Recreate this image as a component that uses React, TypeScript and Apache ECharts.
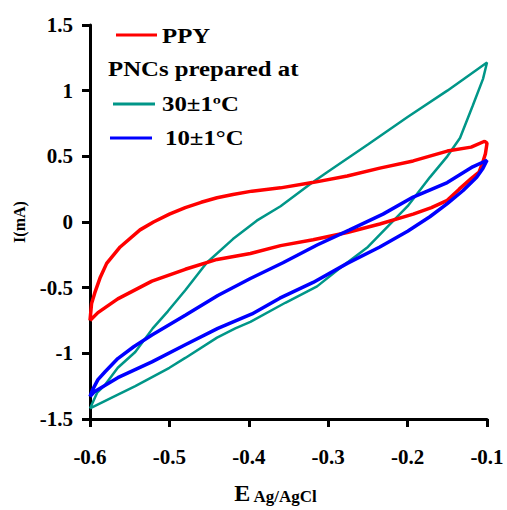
import React, { useEffect, useRef } from "react";
import * as echarts from "echarts";

// PPY loop (E in V, I in mA)
const ppyE = [-0.6, -0.598, -0.594, -0.587, -0.579, -0.562, -0.537, -0.52, -0.5, -0.48, -0.46, -0.44, -0.42, -0.396, -0.36, -0.32, -0.276, -0.235, -0.193, -0.15, -0.12, -0.103, -0.1, -0.102, -0.105, -0.11, -0.12, -0.135, -0.15, -0.17, -0.193, -0.235, -0.276, -0.319, -0.36, -0.398, -0.44, -0.48, -0.522, -0.565, -0.59, -0.6];
const ppyI = [-0.75, -0.62, -0.54, -0.42, -0.315, -0.19, -0.06, 0.0, 0.06, 0.11, 0.15, 0.185, 0.21, 0.235, 0.26, 0.3, 0.35, 0.41, 0.465, 0.54, 0.57, 0.615, 0.6, 0.52, 0.46, 0.38, 0.33, 0.25, 0.165, 0.11, 0.06, -0.015, -0.08, -0.135, -0.18, -0.24, -0.285, -0.36, -0.45, -0.585, -0.69, -0.75];

// PNCs prepared at 30±1°C
const pnc30E = [-0.6, -0.57, -0.543, -0.5, -0.48, -0.44, -0.417, -0.398, -0.354, -0.314, -0.285, -0.25, -0.2, -0.172, -0.15, -0.134, -0.118, -0.105, -0.1, -0.15, -0.2, -0.25, -0.3, -0.32, -0.36, -0.39, -0.42, -0.453, -0.48, -0.502, -0.521, -0.543, -0.565, -0.581, -0.591, -0.597, -0.6];
const pnc30I = [-1.42, -1.33, -1.25, -1.11, -1.035, -0.88, -0.81, -0.76, -0.615, -0.49, -0.35, -0.19, 0.12, 0.34, 0.5, 0.64, 0.885, 1.09, 1.215, 1.0, 0.8, 0.59, 0.385, 0.3, 0.12, 0.01, -0.13, -0.31, -0.52, -0.68, -0.81, -0.99, -1.11, -1.24, -1.3, -1.38, -1.42];

// PNCs prepared at 10±1°C
const pnc10E = [-0.6, -0.597, -0.59, -0.581, -0.565, -0.545, -0.522, -0.48, -0.439, -0.398, -0.357, -0.314, -0.273, -0.231, -0.193, -0.15, -0.118, -0.1, -0.105, -0.113, -0.13, -0.15, -0.172, -0.2, -0.235, -0.276, -0.319, -0.361, -0.396, -0.439, -0.48, -0.522, -0.565, -0.594, -0.6];
const pnc10I = [-1.33, -1.28, -1.2, -1.14, -1.04, -0.95, -0.86, -0.71, -0.56, -0.43, -0.31, -0.175, -0.06, 0.06, 0.19, 0.3, 0.42, 0.47, 0.41, 0.34, 0.24, 0.14, 0.04, -0.07, -0.19, -0.315, -0.46, -0.58, -0.7, -0.81, -0.935, -1.065, -1.185, -1.29, -1.33];

const seriesNames = ["PPY", "30±1ºC", "10±1°C"];
const seriesColors = ["#ff0000", "#009688", "#0000ff"];

const zip = (xs: number[], ys: number[]) => xs.map((x, i) => [x, ys[i]]);

export default function App() {
  const ref = useRef<HTMLDivElement>(null);
  useEffect(() => {
    document.body.style.margin = "0";
    if (!ref.current) return;
    const chart = echarts.init(ref.current, undefined, { renderer: "svg" });
    const font = "'Liberation Serif', 'Times New Roman', serif";
    const legendText = (text: string, x: number, y: number) => ({
      type: "text",
      x,
      y,
      scaleX: 1.24,
      style: { text, font: `bold 20px ${font}`, fill: "#000", textVerticalAlign: "middle" },
    });
    chart.setOption({
      animation: false,
      grid: { left: 90, right: 20, top: 25, bottom: 85 },
      xAxis: {
        type: "value",
        min: -0.6,
        max: -0.1,
        interval: 0.1,
        axisLine: { onZero: false, lineStyle: { color: "#000", width: 3 } },
        axisTick: { show: true, length: 8, lineStyle: { color: "#000", width: 3 } },
        splitLine: { show: false },
        axisLabel: {
          margin: 27,
          color: "#000",
          fontFamily: font,
          fontWeight: "bold",
          fontSize: 21,
          formatter: (v: number) => v.toFixed(1),
        },
        name: "{a|E} {b|Ag/AgCl}",
        nameLocation: "middle",
        nameGap: 62,
        nameTextStyle: {
          padding: [0, 26, 0, 0],
          rich: {
            a: { fontFamily: font, fontWeight: "bold", fontSize: 24, color: "#000" },
            b: { fontFamily: font, fontWeight: "bold", fontSize: 17, color: "#000", padding: [6, 0, 0, 0] },
          },
        },
      },
      yAxis: {
        type: "value",
        min: -1.5,
        max: 1.5,
        interval: 0.5,
        axisLine: { onZero: false, lineStyle: { color: "#000", width: 3 } },
        axisTick: { show: true, length: 8, lineStyle: { color: "#000", width: 3 } },
        splitLine: { show: false },
        axisLabel: {
          margin: 17,
          color: "#000",
          fontFamily: font,
          fontWeight: "bold",
          fontSize: 21,
          formatter: (v: number) => String(Number(v.toFixed(1))),
        },
        name: "I(mA)",
        nameLocation: "middle",
        nameGap: 63,
        nameTextStyle: { fontFamily: font, fontWeight: "bold", fontSize: 16, color: "#000" },
      },
      series: [
        { name: seriesNames[1], type: "line", data: zip(pnc30E, pnc30I), showSymbol: false, symbol: "none", lineStyle: { color: seriesColors[1], width: 2.5 }, z: 2 },
        { name: seriesNames[0], type: "line", data: zip(ppyE, ppyI), showSymbol: false, symbol: "none", lineStyle: { color: seriesColors[0], width: 3.5 }, z: 3 },
        { name: seriesNames[2], type: "line", data: zip(pnc10E, pnc10I), showSymbol: false, symbol: "none", lineStyle: { color: seriesColors[2], width: 3.5 }, z: 4 },
      ],
      graphic: [
        { type: "line", shape: { x1: 116, y1: 35, x2: 157, y2: 35 }, style: { stroke: seriesColors[0], lineWidth: 3 } },
        legendText(seriesNames[0], 162, 36),
        legendText("PNCs prepared at", 108, 69),
        { type: "line", shape: { x1: 113, y1: 104, x2: 155, y2: 104 }, style: { stroke: seriesColors[1], lineWidth: 3 } },
        legendText(seriesNames[1], 162, 104),
        { type: "line", shape: { x1: 110, y1: 138, x2: 152, y2: 138 }, style: { stroke: seriesColors[2], lineWidth: 3 } },
        legendText(seriesNames[2], 165, 138),
      ],
    });
    return () => chart.dispose();
  }, []);
  return <div ref={ref} style={{ width: 507, height: 510 }} />;
}
